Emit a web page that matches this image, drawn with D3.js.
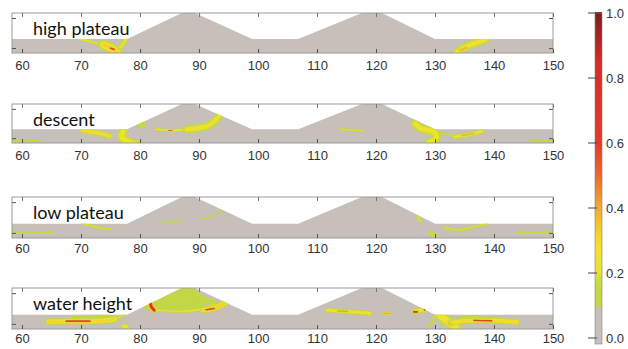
<!DOCTYPE html>
<html><head><meta charset="utf-8">
<script src="https://cdn.jsdelivr.net/npm/d3@7"></script>
<style>body{margin:0;background:#fff}svg{display:block}</style>
</head><body>
<svg id="c" width="628" height="349"></svg>
<script>
// ---------- data ----------
const xTicks = [60,70,80,90,100,110,120,130,140,150];
const yTicks = [0.125, 0.875];
const cbTicks = [0, 0.2, 0.4, 0.6, 0.8, 1.0];
const panelNames = ["high plateau","descent","low plateau","water height"];
// bed profile: x position, relative elevation
const profileX = [58.3,77.8,87.1,89.3,99.0,106.8,117.6,121.0,130.0,150];
const profileY = [0.35,0.35,1.0,1.0,0.35,0.35,1.0,1.0,0.35,0.35];
// sensitivity streaks: {v: peak value, s: half-spread (elevation units), pts: [x, elevation]}
const streaksHigh = [
  {v:0.25, s:0.04, pts:[[69.8,0.35],[72.3,0.26],[74.2,0.17]]},
  {v:0.35, s:0.13, pts:[[73.8,0.2],[75.3,0.11],[76.2,0.0]]},
  {v:0.65, s:0.045, pts:[[75.0,0.12],[75.6,0.09]]},
  {v:0.28, s:0.06, pts:[[76.2,0.08],[77.0,0.2],[77.6,0.34]]},
  {v:0.3,  s:0.1,  pts:[[133.6,0.0],[134.5,0.1],[135.9,0.2],[138.5,0.33]]},
  {v:0.45, s:0.04, pts:[[134.2,0.06],[135.3,0.13]]},
  {v:0.22, s:0.03, pts:[[138.5,0.33],[139.5,0.35]]}
];
const streaksDescent = [
  {v:0.15, s:0.03, pts:[[58.3,0.06],[63.0,0.05]]},
  {v:0.32, s:0.07, pts:[[70.3,0.32],[72.3,0.27],[74.9,0.18]]},
  {v:0.3,  s:0.12, pts:[[77.1,0.29],[76.9,0.16],[77.6,0.06],[79.5,-0.05]]},
  {v:0.2,  s:0.07, pts:[[80.0,0.44],[80.6,0.48]]},
  {v:0.27, s:0.04, pts:[[82.8,0.35],[85.1,0.32],[87.9,0.35]]},
  {v:0.6,  s:0.03, pts:[[84.8,0.32],[85.4,0.32]]},
  {v:0.28, s:0.1,  pts:[[87.9,0.35],[91.3,0.43],[92.6,0.55],[93.4,0.7]]},
  {v:0.22, s:0.03, pts:[[113.9,0.35],[117.8,0.32]]},
  {v:0.3,  s:0.11, pts:[[126.6,0.5],[127.5,0.38],[129.7,0.29],[130.3,0.16],[128.8,-0.01]]},
  {v:0.2,  s:0.03, pts:[[130.8,0.27],[133.3,0.17]]},
  {v:0.3,  s:0.06, pts:[[133.3,0.16],[135.9,0.22],[138.0,0.3]]},
  {v:0.42, s:0.025, pts:[[134.5,0.19],[136.5,0.24]]},
  {v:0.15, s:0.03, pts:[[146.1,0.06],[150,0.05]]}
];
const streaksLow = [
  {v:0.2,  s:0.03, pts:[[58.3,0.14],[65.1,0.14]]},
  {v:0.22, s:0.03, pts:[[70.2,0.36],[73.2,0.25],[74.9,0.21]]},
  {v:0.15, s:0.02, pts:[[83.9,0.4],[86.8,0.4]]},
  {v:0.15, s:0.02, pts:[[90.2,0.46],[92.7,0.56],[94.1,0.68]]},
  {v:0.22, s:0.04, pts:[[127.1,0.52],[127.5,0.4]]},
  {v:0.2,  s:0.05, pts:[[129.2,0.12],[130.0,0.07]]},
  {v:0.22, s:0.03, pts:[[131.4,0.28],[133.7,0.2],[139.0,0.36]]},
  {v:0.2,  s:0.03, pts:[[143.9,0.14],[150,0.14]]}
];
const streaksWater = [
  {v:0.13, s:0.09, pts:[[69,0.25],[72,0.27],[75,0.27]]},
  {v:0.33, s:0.08, pts:[[64.5,0.18],[68,0.19],[71,0.19],[74,0.21],[75.8,0.24]]},
  {v:0.72, s:0.04, pts:[[67.5,0.19],[71.5,0.19]]},
  {v:0.25, s:0.03, pts:[[75.8,0.24],[77.5,0.36]]},
  {v:0.3,  s:0.06, pts:[[77.1,0.07],[77.8,0.05]]},
  {v:0.15, s:0.07, pts:[[88.8,0.93],[90.7,0.74],[92.7,0.62]]},
  {v:0.85, s:0.07, pts:[[81.7,0.67],[81.9,0.55],[82.4,0.46]]},
  {v:0.25, s:0.04, pts:[[82.9,0.46],[86.8,0.43],[90.2,0.48],[92.4,0.6]]},
  {v:0.35, s:0.08, pts:[[90.7,0.46],[92.4,0.5],[94.0,0.6],[94.7,0.67]]},
  {v:0.72, s:0.035, pts:[[91.2,0.47],[92.6,0.5]]},
  {v:0.3,  s:0.06, pts:[[111.7,0.46],[114.4,0.43],[117.8,0.4],[119.0,0.38]]},
  {v:0.5,  s:0.03, pts:[[113.5,0.44],[115.2,0.43]]},
  {v:0.45, s:0.03, pts:[[121.2,0.38],[122.4,0.38]]},
  {v:0.3,  s:0.07, pts:[[126.6,0.43],[128.5,0.48]]},
  {v:0.8,  s:0.035, pts:[[126.4,0.42],[127.0,0.42]]},
  {v:0.8,  s:0.035, pts:[[128.2,0.47],[128.5,0.49]]},
  {v:0.2,  s:0.03, pts:[[130.3,0.38],[129.7,0.21],[128.8,0.06]]},
  {v:0.13, s:0.06, pts:[[134,0.25],[137,0.26],[141,0.24]]},
  {v:0.3,  s:0.14, pts:[[130.8,0.34],[131.8,0.22],[132.8,0.12],[133.5,0.05]]},
  {v:0.45, s:0.045, pts:[[132.3,0.15],[132.8,0.1]]},
  {v:0.32, s:0.07, pts:[[132.5,0.15],[135.4,0.2],[137.6,0.21],[140.5,0.2],[143.9,0.17]]},
  {v:0.7,  s:0.035, pts:[[136.6,0.21],[139.6,0.2]]}
];
const regionsWater = [
  {v:0.12, pts:[[79.5,0.66],[86.3,1.02],[88.5,1.02],[89.7,0.83],[91.1,0.62],[90.2,0.5],[83.4,0.48],[81.7,0.45]]}
];
const panelStreaks = [streaksHigh, streaksDescent, streaksLow, streaksWater];
const panelRegions = [[], [], [], regionsWater];
// colour map
const cmapStops = [0, 0.09, 0.1, 0.17, 0.2, 0.28, 0.35, 0.42, 0.5, 0.6, 0.85, 1.0];
const cmapColors = ["#c7bfba","#c7bfba","#bfd64a","#c8da3c","#e2e232","#f6e02a","#f5c52d","#efa030","#ea6a2e","#e63a2c","#da2a28","#7a1e1e"];

// ---------- drawing ----------
const svg = d3.select("#c");
const color = d3.scaleLinear().domain(cmapStops).range(cmapColors).clamp(true);
const layout = [{top:13,h:40,pad:8},{top:104,h:39,pad:8},{top:197,h:41,pad:6},{top:288,h:41,pad:5}];
const x = d3.scaleLinear().domain([58.3,150]).range([12,553]);
const levels = [0.1,0.2,0.3,0.4,0.5,0.6,0.75,0.9];
const tickFont = "'Liberation Sans', Arial, sans-serif";
const profile = profileX.map((v,k)=>[v, profileY[k]]);

layout.forEach((L, i) => {
  const y = d3.scaleLinear().domain([0,1]).range([L.top+L.h, L.top]);
  const g = svg.append("g");
  const area = d3.area().x(d=>x(d[0])).y0(L.top+L.h).y1(d=>y(d[1]));
  svg.append("clipPath").attr("id","clip"+i).append("path").attr("d", area(profile));
  g.append("path").attr("d", area(profile)).attr("fill", color(0));
  const sg = g.append("g").attr("clip-path", `url(#clip${i})`);
  const closed = d3.line().x(d=>x(d[0])).y(d=>y(d[1])).curve(d3.curveCatmullRomClosed);
  panelRegions[i].forEach(r => {
    sg.append("path").attr("d", closed(r.pts)).attr("fill", color(r.v));
  });
  const line = d3.line().x(d=>x(d[0])).y(d=>y(d[1])).curve(d3.curveCatmullRom.alpha(0.5));
  const sorted = panelStreaks[i].slice().sort((a,b)=>a.v-b.v);
  sorted.forEach(st => {
    const ls = levels.filter(l => l < st.v);
    const sPx = st.s * L.h * 2;
    ls.forEach((l, k) => {
      const mid = k+1 < ls.length ? (l+ls[k+1])/2 : (l+st.v)/2;
      const f = (l-0.1)/(st.v-0.1+0.03);
      const w = sPx * Math.max(0, 1 - f);
      sg.append("path").attr("d", line(st.pts)).attr("fill","none")
        .attr("stroke", color(mid)).attr("stroke-width", Math.max(w, 0.8))
        .attr("stroke-linecap","round").attr("stroke-linejoin","round");
    });
  });
  // frame
  g.append("rect").attr("x", 12).attr("y", L.top).attr("width", 553-12).attr("height", L.h)
    .attr("fill","none").attr("stroke","#9a9a9a").attr("stroke-width",1);
  // axes
  const bottom = g.append("g").attr("transform",`translate(0,${L.top+L.h})`)
    .call(d3.axisBottom(x).tickValues(xTicks).tickFormat(d3.format("d")).tickSizeInner(-4).tickSizeOuter(0).tickPadding(L.pad));
  bottom.select(".domain").remove();
  bottom.selectAll("line").attr("stroke","#555");
  bottom.selectAll("text").attr("font-family", tickFont).attr("font-size", 13).attr("fill","#333");
  const top = g.append("g").attr("transform",`translate(0,${L.top})`)
    .call(d3.axisTop(x).tickValues(xTicks).tickFormat("").tickSizeInner(-4).tickSizeOuter(0));
  top.select(".domain").remove();
  top.selectAll("line").attr("stroke","#777");
  const left = g.append("g").attr("transform","translate(12,0)")
    .call(d3.axisLeft(y).tickValues(yTicks).tickFormat("").tickSizeInner(-4).tickSizeOuter(0));
  left.select(".domain").remove();
  left.selectAll("line").attr("stroke","#555");
  const right = g.append("g").attr("transform","translate(553,0)")
    .call(d3.axisRight(y).tickValues(yTicks).tickFormat("").tickSizeInner(-4).tickSizeOuter(0));
  right.select(".domain").remove();
  right.selectAll("line").attr("stroke","#555");
  // label
  g.append("text").attr("x", 33).attr("y", L.top+22).text(panelNames[i])
    .attr("font-family","Lato, 'Open Sans', sans-serif").attr("font-size",18).attr("fill","#111");
});

// colour bar
const cb = d3.scaleLinear().domain([0,1]).range([338, 13]);
const cbg = svg.append("g");
const vals = d3.range(0, 1.0001, 0.0025);
cbg.selectAll("rect.s").data(vals).enter().append("rect")
  .attr("x", 595).attr("width", 7)
  .attr("y", d => cb(d) - 1).attr("height", 1.6)
  .attr("fill", d => color(d));
cbg.append("rect").attr("x",595).attr("width",7).attr("y",337).attr("height",7).attr("fill",color(0));
cbg.append("rect").attr("x",595).attr("width",7).attr("y",13).attr("height",331)
  .attr("fill","none").attr("stroke","#8a8080").attr("stroke-width",0.6);
const cax = cbg.append("g").attr("transform","translate(595,0)")
  .call(d3.axisRight(cb).tickValues(cbTicks).tickFormat(d3.format(".1f")).tickSizeInner(0).tickSizeOuter(0).tickPadding(11));
cax.select(".domain").remove();
cax.selectAll("text").attr("font-family", tickFont).attr("font-size", 13).attr("fill","#333");
cbg.selectAll("line.t").data(cbTicks).enter().append("line").attr("class","t")
  .attr("x1",588).attr("x2",597).attr("y1",d=>cb(d)).attr("y2",d=>cb(d)).attr("stroke","#444");
</script>
</body></html>
